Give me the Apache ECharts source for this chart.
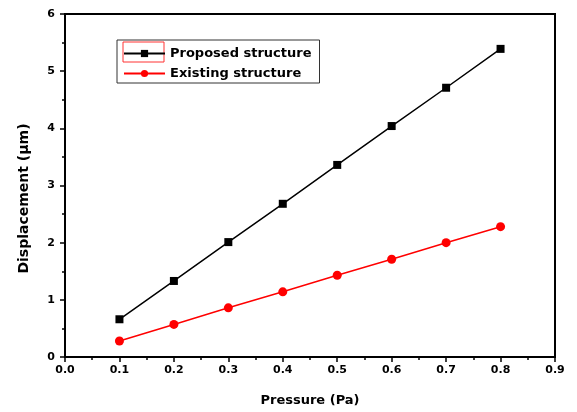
<!DOCTYPE html>
<html>
<head>
<meta charset="utf-8">
<script src="https://cdn.jsdelivr.net/npm/echarts@6/dist/echarts.min.js"></script>
<style>
  html, body { margin: 0; padding: 0; background: #fff; }
  #main { width: 577px; height: 412px; }
</style>
</head>
<body>
<div id="main"></div>
<script>
var pressure = [0.1, 0.2, 0.3, 0.4, 0.5, 0.6, 0.7, 0.8];
var proposed = [0.66, 1.33, 2.01, 2.68, 3.36, 4.04, 4.71, 5.39];
var existing = [0.28, 0.57, 0.86, 1.14, 1.43, 1.71, 2.0, 2.28];

function pairs(ys) {
  return pressure.map(function (x, i) { return [x, ys[i]]; });
}

var myChart = echarts.init(document.getElementById("main"));
var fontFam = "DejaVu Sans, sans-serif";

myChart.setOption({
  animation: false,
  grid: {
    left: 65, right: 22, top: 14, bottom: 55,
    show: true,
    borderColor: "#000",
    borderWidth: 2
  },
  legend: {
    left: 117, top: 40,
    orient: "vertical",
    itemGap: 7,
    itemWidth: 41,
    itemHeight: 9,
    padding: [7, 8, 3, 6],
    borderColor: "#333",
    borderWidth: 1,
    textStyle: { fontFamily: fontFam, fontWeight: "bold", fontSize: 13, color: "#000" },
    data: ["Proposed structure", "Existing structure"]
  },
  xAxis: {
    type: "value",
    min: 0, max: 0.9, interval: 0.1,
    name: "Pressure (Pa)",
    nameLocation: "middle",
    nameGap: 37,
    nameTextStyle: { fontFamily: fontFam, fontWeight: "bold", fontSize: 13, color: "#000" },
    axisLine: { show: true, lineStyle: { color: "#000", width: 2 } },
    axisTick: { show: true, length: 5, lineStyle: { color: "#000", width: 1.5 } },
    minorTick: { show: true, splitNumber: 2, length: 3, lineStyle: { color: "#000", width: 1.5 } },
    splitLine: { show: false },
    axisLabel: {
      fontFamily: fontFam, fontWeight: "bold", fontSize: 11, color: "#000", margin: 8,
      formatter: function (v) { return v.toFixed(1); }
    }
  },
  yAxis: {
    type: "value",
    min: 0, max: 6, interval: 1,
    name: "Displacement (\u03bcm)",
    nameLocation: "middle",
    nameGap: 34,
    nameTextStyle: {
      fontFamily: fontFam, fontWeight: "bold", fontSize: 14, color: "#000",
      padding: [0, 26, 0, 0]
    },
    axisLine: { show: true, lineStyle: { color: "#000", width: 2 } },
    axisTick: { show: true, length: 5, lineStyle: { color: "#000", width: 1.5 } },
    minorTick: { show: true, splitNumber: 2, length: 3, lineStyle: { color: "#000", width: 1.5 } },
    splitLine: { show: false },
    axisLabel: { fontFamily: fontFam, fontWeight: "bold", fontSize: 11, color: "#000", margin: 10 }
  },
  series: [
    {
      name: "Proposed structure",
      type: "line",
      data: pairs(proposed),
      symbol: "rect",
      symbolSize: 8,
      itemStyle: { color: "#000" },
      lineStyle: { color: "#000", width: 1.5 }
    },
    {
      name: "Existing structure",
      type: "line",
      data: pairs(existing),
      symbol: "circle",
      symbolSize: 9,
      itemStyle: { color: "#ff0000" },
      lineStyle: { color: "#ff0000", width: 1.5 }
    }
  ],
  graphic: [
    {
      type: "rect",
      shape: { x: 123, y: 42, width: 41, height: 20 },
      style: { fill: "none", stroke: "#ff3333", lineWidth: 1 }
    }
  ]
});
</script>
</body>
</html>
